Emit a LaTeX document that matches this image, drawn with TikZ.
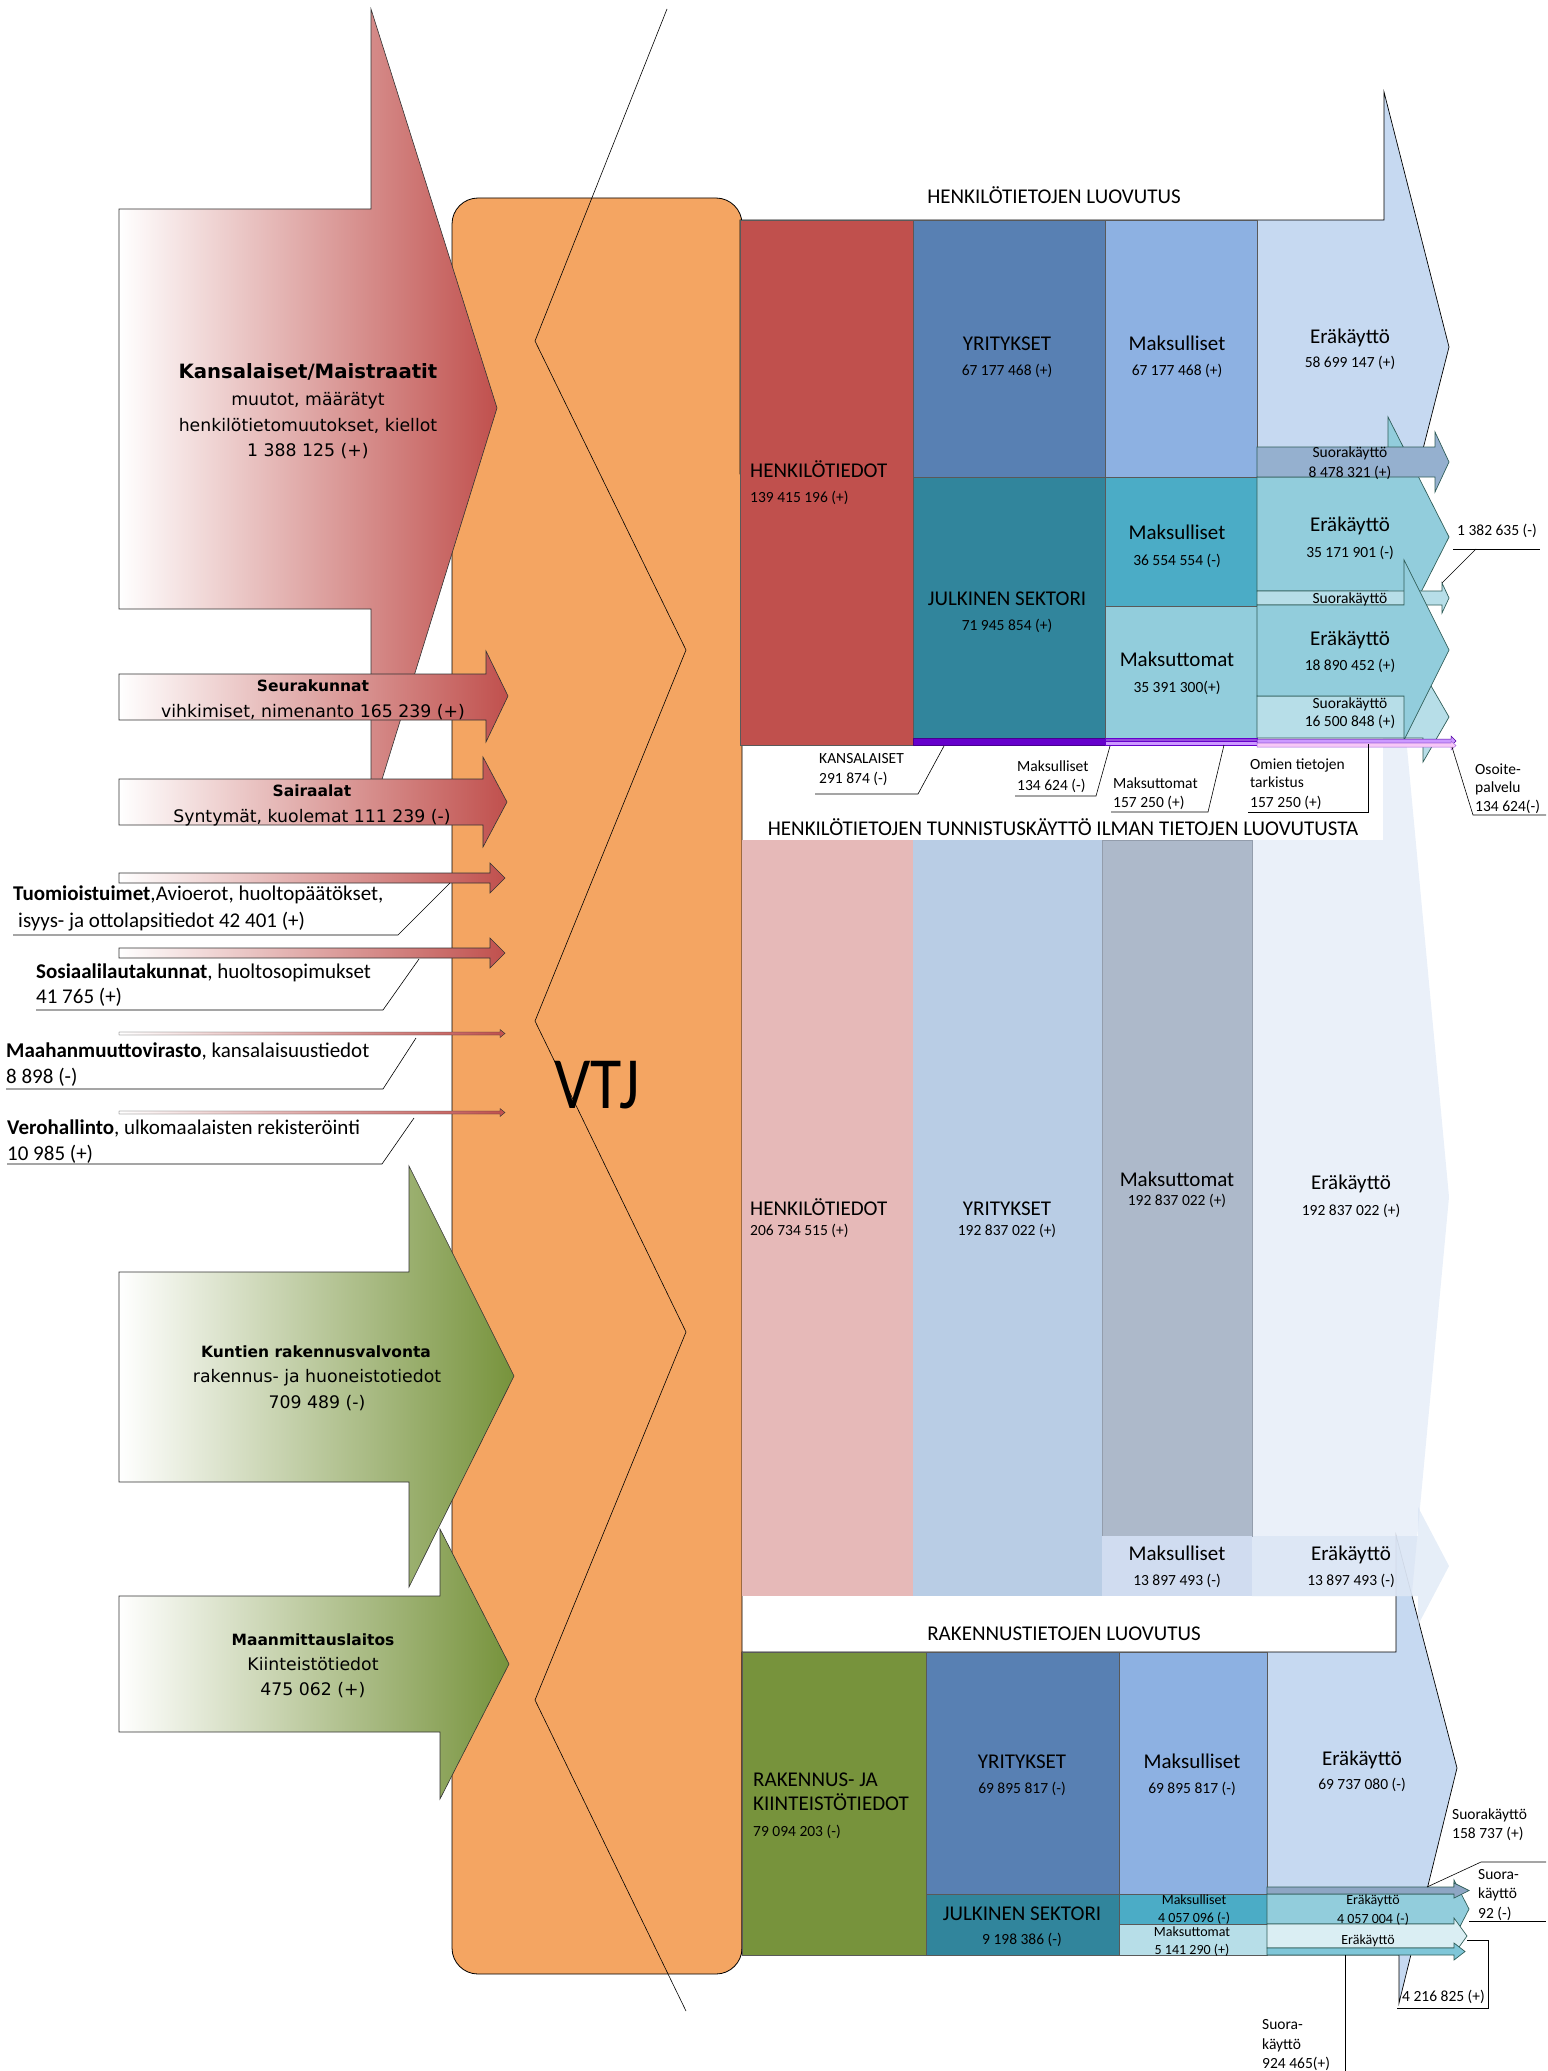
\documentclass[tikz,border=0pt]{standalone}
\usepackage{fontspec}
\setmainfont{Carlito}
\newfontfamily\vfont{DejaVu Sans}
\newcommand{\fsz}[2]{\fontsize{#1}{#2}\selectfont}
\definecolor{orangeC}{HTML}{F4A562}
\definecolor{redA}{HTML}{C0504D}
\definecolor{greenA}{HTML}{77933C}
\definecolor{yrit}{HTML}{5880B3}
\definecolor{maks}{HTML}{8DB1E2}
\definecolor{era}{HTML}{C6D9F1}
\definecolor{suoraA}{HTML}{95B0CF}
\definecolor{julk}{HTML}{31859C}
\definecolor{maksj}{HTML}{4BACC6}
\definecolor{tealA}{HTML}{92CDDC}
\definecolor{tealB}{HTML}{B7DEE8}
\definecolor{purp}{HTML}{6600CC}
\definecolor{lav}{HTML}{CC99FF}
\definecolor{pinkL}{HTML}{F7C8F7}
\definecolor{mPink}{HTML}{E6B9B8}
\definecolor{mBlue}{HTML}{B9CDE5}
\definecolor{mGray}{HTML}{ADB9CA}
\definecolor{mMaks}{HTML}{D0DCF0}
\definecolor{mPale}{HTML}{E6EDF8}
\definecolor{mPaleB}{HTML}{D6E2F3}
\definecolor{bSuora}{HTML}{8EA6C4}
\definecolor{bEra}{HTML}{DAEEF3}
\definecolor{bSuoraB}{HTML}{7FC6D8}
\definecolor{arrline}{HTML}{2F5D58}
\begin{document}
\begin{tikzpicture}[x=1pt,y=-1pt,
  blk/.style={draw=black!65, line width=0.7pt},
  arrC/.style={draw=arrline, line width=0.7pt},
  lead/.style={draw=black, line width=0.6pt},
  tb/.style={inner sep=0pt, anchor=base},
  tbl/.style={inner sep=0pt, anchor=base west},
  big/.style={font={\fsz{21}{25}}},
  num/.style={font={\fsz{15.5}{18}}},
  sml/.style={font={\fsz{14}{16}}},
  redarrow/.style={left color=white, right color=redA, draw=black!80, line width=0.6pt},
  greenarrow/.style={left color=white, right color=greenA, draw=black!80, line width=0.6pt},
  lt/.style={inner sep=0pt, anchor=base west, font={\fsz{21}{26}}},
  vt/.style={inner sep=0pt, anchor=base, font={\vfont\fsz{17.3}{26}}},
  vtb/.style={inner sep=0pt, anchor=base, font={\vfont\bfseries\fsz{15.5}{26}}}
]
\useasboundingbox (0,0) rectangle (1547,2071);

% ---------------- VTJ body ----------------
\draw[fill=orangeC, draw=black, line width=0.8pt, rounded corners=26pt] (452,198) rectangle (742,1974);
\draw[line width=0.6pt] (667,9) -- (535,341) -- (686,650) -- (535,1021) -- (686,1332) -- (535,1700) -- (686,2011);
\node[tb] (vtj) at (597,1108) {\fsz{64}{64}\scalebox{1}[1.15]{VTJ}};

% ---------------- left arrows ----------------
\draw[redarrow] (119,209) -- (371,209) -- (371,9) -- (497,408) -- (371,815) -- (371,609) -- (119,609) -- cycle;
\draw[redarrow] (119,674) -- (486,674) -- (486,651) -- (508,696) -- (486,742) -- (486,720) -- (119,720) -- cycle;
\draw[redarrow] (119,779) -- (483,779) -- (483,757) -- (507,802) -- (483,847) -- (483,825) -- (119,825) -- cycle;
\draw[redarrow] (119,873) -- (490,873) -- (490,863) -- (505,878) -- (490,893) -- (490,883) -- (119,883) -- cycle;
\draw[redarrow] (119,948) -- (490,948) -- (490,938) -- (505,953) -- (490,968) -- (490,958) -- (119,958) -- cycle;
\draw[redarrow, line width=0.4pt] (119,1032) -- (500,1032) -- (500,1029.5) -- (505,1033.5) -- (500,1037.5) -- (500,1035) -- (119,1035) -- cycle;
\draw[redarrow, line width=0.4pt] (119,1111) -- (500,1111) -- (500,1108.5) -- (505,1112.5) -- (500,1116.5) -- (500,1114) -- (119,1114) -- cycle;
\draw[greenarrow] (119,1272) -- (409,1272) -- (409,1166) -- (514,1376) -- (409,1587) -- (409,1482) -- (119,1482) -- cycle;
\draw[greenarrow] (119,1596) -- (440,1596) -- (440,1529) -- (509,1664) -- (440,1799) -- (440,1732) -- (119,1732) -- cycle;

% texts in big arrows
\node[tb, font={\vfont\bfseries\fsz{19.7}{26}}] (kan1) at (308,378) {Kansalaiset/Maistraatit};
\node[vt] (kan2) at (308,405) {muutot, määrätyt};
\node[vt] (kan3) at (308,431) {henkilötietomuutokset, kiellot};
\node[vt] (kan4) at (308,456) {1 388 125 (+)};
\node[vtb] (seu1) at (313,691) {Seurakunnat};
\node[vt] (seu2) at (313,717) {vihkimiset, nimenanto 165 239 (+)};
\node[vtb] (sai1) at (312,796) {Sairaalat};
\node[vt] (sai2) at (312,822) {Syntymät, kuolemat 111 239 (-)};
\node[vtb] (kun1) at (316,1357) {Kuntien rakennusvalvonta};
\node[vt] (kun2) at (317,1382) {rakennus- ja huoneistotiedot};
\node[vt] (kun3) at (317,1408) {709 489 (-)};
\node[vtb] (maa1) at (313,1645) {Maanmittauslaitos};
\node[vt] (maa2) at (313,1670) {Kiinteistötiedot};
\node[vt] (maa3) at (313,1695) {475 062 (+)};

% left labels
\node[lt] (tuo1) at (13,900) {\textbf{Tuomioistuimet},Avioerot, huoltopäätökset,};
\node[lt] (tuo2) at (18,927) {isyys- ja ottolapsitiedot 42 401 (+)};
\draw[lead] (13,935) -- (398,935) -- (450,883);
\node[lt] (sos1) at (36,978) {\textbf{Sosiaalilautakunnat}, huoltosopimukset};
\node[lt] (sos2) at (36,1003) {41 765 (+)};
\draw[lead] (36,1010) -- (383,1010) -- (419,959);
\node[lt] (mig1) at (6,1057) {\textbf{Maahanmuuttovirasto}, kansalaisuustiedot};
\node[lt] (mig2) at (6,1083) {8 898 (-)};
\draw[lead] (6,1089) -- (383,1089) -- (416,1038);
\node[lt] (ver1) at (7,1134) {\textbf{Verohallinto}, ulkomaalaisten rekisteröinti};
\node[lt] (ver2) at (7,1160) {10 985 (+)};
\draw[lead] (7,1164) -- (382,1164) -- (414,1118);

% ---------------- background big arrows ----------------
% RAKENNUS big arrow
\draw[fill=era, draw=black, line width=0.7pt] (742,1652) -- (1396,1652) -- (1396,1535) -- (1457,1768) -- (1399,2003) -- (1399,1955) -- (742,1955) -- cycle;
% pale big arrow (tunnistuskaytto)
\fill[mPale, fill opacity=0.85] (1252,840) -- (1383,840) -- (1383,491) -- (1449,1197) -- (1411.7,1596) -- (1252,1596) -- cycle;
\fill[mPaleB, fill opacity=0.6] (1252,1536) -- (1418,1536) -- (1418,1507) -- (1449,1566) -- (1418,1625) -- (1418,1596) -- (1252,1596) -- cycle;

% ---------------- top section ----------------
\draw[fill=era, draw=black, line width=0.7pt] (740,220) -- (1384,220) -- (1384,92) -- (1449,347) -- (1384,602) -- (1384,474) -- (740,474) -- cycle;
\draw[blk, fill=redA] (740,220) rectangle (913,745);
\draw[blk, fill=yrit] (913,220) rectangle (1105,477);
\draw[blk, fill=maks] (1105,220) rectangle (1257,477);
\draw[blk, fill=julk] (913,477) rectangle (1105,738);
\draw[blk, fill=maksj] (1105,477) rectangle (1257,606);
\draw[blk, fill=tealA] (1105,606) rectangle (1257,738);
% flows
\draw[arrC, fill=tealA] (1257,477) -- (1388,477) -- (1388,417) -- (1449,537) -- (1388,657) -- (1388,591) -- (1257,591) -- cycle;
\draw[arrC, fill=suoraA] (1257,447) -- (1435,447) -- (1435,432) -- (1449,462) -- (1435,492) -- (1435,477) -- (1257,477) -- cycle;
\draw[arrC, fill=tealB] (1257,591) -- (1442,591) -- (1442,583) -- (1449,598) -- (1442,613) -- (1442,605) -- (1257,605) -- cycle;
\draw[arrC, fill=tealB] (1257,696) -- (1423,696) -- (1423,672) -- (1449,717) -- (1423,762) -- (1423,738) -- (1257,738) -- cycle;
\draw[arrC, fill=tealA] (1257,605) -- (1404,605) -- (1404,560) -- (1449,650) -- (1404,740) -- (1404,696) -- (1257,696) -- cycle;
% purple strips
\draw[fill=purp, draw=purp!70!black, line width=0.5pt] (913,738) rectangle (1105,745);
\draw[fill=purp!70!white, draw=purp, line width=0.5pt] (1105,738) rectangle (1257,741.5);
\draw[fill=lav, draw=purp, line width=0.5pt] (1105,741.5) rectangle (1257,745);
\draw[fill=lav, draw=purp!80!black, line width=0.5pt] (1257,739) -- (1451,739) -- (1451,736) -- (1456,741) -- (1451,746) -- (1451,743) -- (1257,743) -- cycle;
\draw[fill=pinkL, draw=purp!60!white, line width=0.5pt] (1257,743) -- (1451,743) -- (1451,741) -- (1456,745.5) -- (1451,750) -- (1451,747) -- (1257,747) -- cycle;

% top texts
\node[tb, big] (t1) at (1054,204) {HENKILÖTIETOJEN LUOVUTUS};
\node[tbl, big] (h1) at (750,477) {HENKILÖTIEDOT};
\node[tbl, num] (h1n) at (750,502) {139 415 196 (+)};
\node[tb, big] (y1) at (1007,350) {YRITYKSET};
\node[tb, num] (y1n) at (1007,375) {67 177 468 (+)};
\node[tb, big] (m1) at (1177,350) {Maksulliset};
\node[tb, num] (m1n) at (1177,375) {67 177 468 (+)};
\node[tb, big] (e1) at (1350,343) {Eräkäyttö};
\node[tb, num] (e1n) at (1350,367) {58 699 147 (+)};
\node[tb, num] (s1) at (1350,457) {Suorakäyttö};
\node[tb, num] (s1n) at (1350,477) {8 478 321 (+)};
\node[tb, big] (j1) at (1007,605) {JULKINEN SEKTORI};
\node[tb, num] (j1n) at (1007,630) {71 945 854 (+)};
\node[tb, big] (m2) at (1177,539) {Maksulliset};
\node[tb, num] (m2n) at (1177,565) {36 554 554 (-)};
\node[tb, big] (e2) at (1350,531) {Eräkäyttö};
\node[tb, num] (e2n) at (1350,557) {35 171 901 (-)};
\node[tb, num] (s2) at (1350,603) {Suorakäyttö};
\node[tb, big] (m3) at (1177,666) {Maksuttomat};
\node[tb, num] (m3n) at (1177,692) {35 391 300(+)};
\node[tb, big] (e3) at (1350,645) {Eräkäyttö};
\node[tb, num] (e3n) at (1350,670) {18 890 452 (+)};
\node[tb, num] (s3) at (1350,708) {Suorakäyttö};
\node[tb, num] (s3n) at (1350,726) {16 500 848 (+)};
\node[tb, num] (n1) at (1497,535) {1 382 635 (-)};
\draw[lead] (1453,549) -- (1540,549);
\draw[lead] (1476,549) -- (1442,583);

% labels under top section
\node[tbl, num] (k1) at (819,763) {KANSALAISET};
\node[tbl, num] (k1n) at (819,783) {291 874 (-)};
\draw[lead] (815,794) -- (918,794) -- (944,746);
\node[tbl, num] (k2) at (1017,771) {Maksulliset};
\node[tbl, num] (k2n) at (1017,790) {134 624 (-)};
\draw[lead] (1015,796) -- (1096,796) -- (1110,746);
\node[tbl, num] (k3) at (1113,788) {Maksuttomat};
\node[tbl, num] (k3n) at (1113,807) {157 250 (+)};
\draw[lead] (1111,812) -- (1208,812) -- (1224,745);
\node[tbl, num] (k4) at (1250,769) {Omien tietojen};
\node[tbl, num] (k4b) at (1250,787) {tarkistus};
\node[tbl, num] (k4n) at (1250,807) {157 250 (+)};
\draw[lead] (1248,812) -- (1368,812) -- (1368,744);
\node[tbl, num] (k5) at (1475,774) {Osoite-};
\node[tbl, num] (k5b) at (1475,792) {palvelu};
\node[tbl, num] (k5n) at (1475,811) {134 624(-)};
\draw[lead] (1546,815) -- (1473,815) -- (1452,747);

% ---------------- middle section ----------------
\fill[mPink] (742,840) rectangle (913,1596);
\fill[mBlue] (913,840) rectangle (1102,1596);
\draw[fill=mGray, draw=mGray!85!black, line width=0.4pt] (1102,840) rectangle (1252,1536);
\fill[mMaks] (1102,1536) rectangle (1252,1596);
\node[tb, big] (t2) at (1063,835) {HENKILÖTIETOJEN TUNNISTUSKÄYTTÖ ILMAN TIETOJEN LUOVUTUSTA};
\node[tbl, big] (h2) at (750,1215) {HENKILÖTIEDOT};
\node[tbl, num] (h2n) at (750,1235) {206 734 515 (+)};
\node[tb, big] (y2) at (1007,1215) {YRITYKSET};
\node[tb, num] (y2n) at (1007,1235) {192 837 022 (+)};
\node[tb, big] (m4) at (1177,1186) {Maksuttomat};
\node[tb, num] (m4n) at (1177,1205) {192 837 022 (+)};
\node[tb, big] (e4) at (1351,1189) {Eräkäyttö};
\node[tb, num] (e4n) at (1351,1215) {192 837 022 (+)};
\node[tb, big] (m5) at (1177,1560) {Maksulliset};
\node[tb, num] (m5n) at (1177,1585) {13 897 493 (-)};
\node[tb, big] (e5) at (1351,1560) {Eräkäyttö};
\node[tb, num] (e5n) at (1351,1585) {13 897 493 (-)};

% ---------------- bottom section ----------------
\draw[blk, fill=greenA] (742,1652) rectangle (926,1955);
\draw[blk, fill=yrit] (926,1652) rectangle (1119,1894);
\draw[blk, fill=julk] (926,1894) rectangle (1119,1955);
\draw[blk, fill=maks] (1119,1652) rectangle (1267,1894);
\draw[blk, fill=maksj] (1119,1894) rectangle (1267,1924);
\draw[blk, fill=tealB] (1119,1924) rectangle (1267,1955);
\draw[arrC, fill=tealA] (1267,1894) -- (1454,1894) -- (1454,1880) -- (1469,1909) -- (1454,1938) -- (1454,1924) -- (1267,1924) -- cycle;
\draw[arrC, fill=bEra] (1267,1924) -- (1454,1924) -- (1454,1918) -- (1467,1936) -- (1454,1954) -- (1454,1948) -- (1267,1948) -- cycle;
\draw[arrC, fill=bSuoraB] (1267,1948) -- (1454,1948) -- (1454,1943) -- (1465,1951.5) -- (1454,1960) -- (1454,1955) -- (1267,1955) -- cycle;
\draw[arrC, fill=bSuora] (1267,1887) -- (1454,1887) -- (1454,1883) -- (1469,1890.5) -- (1454,1898) -- (1454,1894) -- (1267,1894) -- cycle;

\node[tb, big] (t3) at (1064,1640) {RAKENNUSTIETOJEN LUOVUTUS};
\node[tbl, big] (r1) at (753,1786) {RAKENNUS- JA};
\node[tbl, big] (r2) at (753,1810) {KIINTEISTÖTIEDOT};
\node[tbl, num] (r3) at (753,1836) {79 094 203 (-)};
\node[tb, big] (y3) at (1022,1768) {YRITYKSET};
\node[tb, num] (y3n) at (1022,1793) {69 895 817 (-)};
\node[tb, big] (m6) at (1192,1768) {Maksulliset};
\node[tb, num] (m6n) at (1192,1793) {69 895 817 (-)};
\node[tb, big] (e6) at (1362,1765) {Eräkäyttö};
\node[tb, num] (e6n) at (1362,1789) {69 737 080 (-)};
\node[tb, big] (j2) at (1022,1920) {JULKINEN SEKTORI};
\node[tb, num] (j2n) at (1022,1944) {9 198 386 (-)};
\node[tb, sml] (m7) at (1194,1904) {Maksulliset};
\node[tb, sml] (m7n) at (1194,1922) {4 057 096 (-)};
\node[tb, sml] (m8) at (1192,1936) {Maksuttomat};
\node[tb, sml] (m8n) at (1192,1954) {5 141 290 (+)};
\node[tb, sml] (e7) at (1373,1904) {Eräkäyttö};
\node[tb, sml] (e7n) at (1373,1923) {4 057 004 (-)};
\node[tb, sml] (e8) at (1368,1944) {Eräkäyttö};

\node[tbl, num] (sq1) at (1452,1819) {Suorakäyttö};
\node[tbl, num] (sq1n) at (1452,1838) {158 737 (+)};
\draw[lead] (1427,1887) -- (1481,1862) -- (1546,1862);
\node[tbl, num] (sq2) at (1478,1879) {Suora-};
\node[tbl, num] (sq2b) at (1478,1898) {käyttö};
\node[tbl, num] (sq2n) at (1478,1918) {92 (-)};
\draw[lead] (1469,1921) -- (1546,1921);
\node[tbl, num] (n2) at (1402,2001) {4 216 825 (+)};
\draw[lead] (1467,1940) -- (1488,1940) -- (1488,2008) -- (1397,2008);
\node[tbl, num] (sq3) at (1262,2029) {Suora-};
\node[tbl, num] (sq3b) at (1262,2049) {käyttö};
\node[tbl, num] (sq3n) at (1262,2068) {924 465(+)};
\draw[lead] (1345,1955) -- (1345,2071);
\end{tikzpicture}
\end{document}
